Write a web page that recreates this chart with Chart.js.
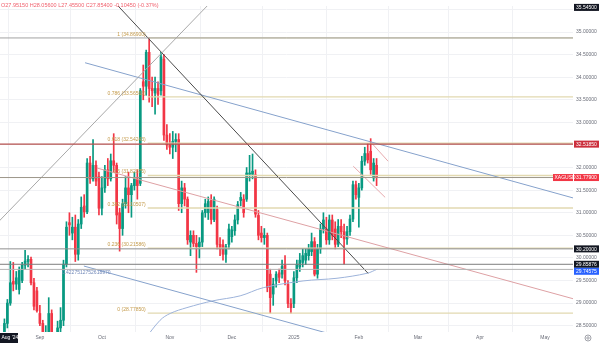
<!DOCTYPE html>
<html>
<head>
<meta charset="utf-8">
<script src="https://cdn.jsdelivr.net/npm/chart.js@4.4.1/dist/chart.umd.min.js"></script>
<style>
  html, body { margin: 0; padding: 0; background: #fff; }
  #wrap { width: 600px; height: 343px; }
</style>
</head>
<body>
<div id="wrap"><canvas id="chartXag"></canvas></div>
<script>
// XAGUSD daily candles, 14 Aug 2024 -> 11 Feb 2025 (axis runs on to mid May)
var startDay = "2024-08-14";
var endDay = "2025-05-14";
var holidays = ["2024-12-25", "2025-01-01"];

var openP = [27.9515, 27.85, 28.55, 29.00, 29.48, 29.42, 29.30, 29.50, 29.84, 29.92,
  29.97, 29.45, 29.27, 28.77, 28.55, 28.15, 28.30, 28.77, 28.05, 28.25,
  28.45, 28.62, 29.86, 30.78, 30.55, 30.68, 30.08, 30.75, 31.15, 31.02,
  32.10, 31.75, 32.05, 31.80, 31.10, 31.55, 31.95, 31.75, 32.15, 32.05,
  31.00, 30.65, 31.20, 31.55, 31.40, 31.60, 31.75, 31.65, 33.90, 33.80,
  34.55, 33.75, 33.65, 33.75, 33.70, 34.40, 32.72, 32.50, 32.45, 32.58,
  32.62, 31.20, 31.55, 31.30, 30.35, 30.50, 30.32, 30.25, 30.35, 31.00,
  31.00, 31.27, 30.85, 31.07, 30.30, 30.29, 30.08, 30.30, 30.47, 30.60,
  30.84, 31.27, 31.30, 31.30, 31.85, 31.85, 31.84, 30.94, 30.55, 30.45,
  30.50, 29.64, 29.20, 29.49, 29.67, 29.64, 29.86, 29.42, 28.99, 28.99,
  29.56, 29.80, 29.90, 29.95, 30.05, 30.14, 30.36, 29.64, 30.20, 30.64,
  30.64, 30.40, 30.84, 30.64, 30.30, 30.70, 30.58, 30.42, 30.58, 30.86,
  31.62, 31.34, 31.55, 32.14, 32.31, 32.36, 31.77, 32.05];
var highP = [28.056, 28.65, 29.08, 29.92, 29.90, 29.70, 29.80, 29.90, 30.17, 30.05,
  30.02, 29.55, 29.35, 28.95, 28.62, 28.50, 29.12, 28.85, 28.35, 28.60,
  28.90, 29.95, 30.80, 31.00, 30.90, 30.95, 30.85, 31.35, 31.40, 32.20,
  32.25, 32.62, 32.15, 31.90, 31.80, 32.05, 32.20, 32.30, 32.75, 32.10,
  31.10, 31.30, 31.80, 31.90, 31.65, 31.90, 31.95, 33.75, 34.27, 34.60,
  34.869, 34.00, 34.00, 33.90, 34.55, 34.50, 32.95, 32.75, 32.80, 32.75,
  32.75, 31.70, 31.65, 31.35, 30.60, 30.60, 30.50, 30.45, 31.05, 31.30,
  31.35, 31.40, 31.35, 31.15, 30.45, 30.40, 30.30, 30.75, 30.70, 30.95,
  31.25, 31.45, 31.40, 32.00, 32.27, 32.30, 31.95, 31.05, 30.70, 30.65,
  30.55, 29.75, 29.55, 29.70, 29.75, 29.95, 30.05, 29.50, 29.10, 29.70,
  29.95, 30.10, 30.20, 30.20, 30.30, 30.55, 30.45, 30.30, 30.75, 31.00,
  30.90, 30.95, 30.95, 30.80, 30.85, 30.85, 30.75, 30.70, 30.95, 31.70,
  31.70, 31.65, 32.25, 32.45, 32.53, 32.64, 32.20, 32.20];
var lowP = [27.455, 27.75, 28.45, 28.95, 29.27, 29.30, 29.20, 29.45, 29.75, 29.80,
  29.40, 28.85, 28.80, 28.50, 28.00, 27.85, 28.25, 27.70, 27.90, 28.10,
  28.00, 28.50, 29.80, 30.50, 30.40, 29.92, 29.95, 30.65, 30.90, 30.98,
  31.65, 31.70, 31.60, 30.95, 30.95, 31.45, 31.60, 31.70, 31.90, 30.75,
  30.15, 30.50, 31.10, 31.00, 30.90, 31.50, 31.30, 31.60, 33.50, 33.60,
  33.45, 33.35, 33.18, 33.40, 33.60, 32.60, 32.40, 32.30, 32.20, 32.35,
  31.05, 31.00, 31.15, 30.30, 30.05, 30.25, 29.68, 30.00, 30.25, 30.90,
  30.85, 30.75, 30.80, 30.20, 30.05, 29.95, 29.90, 30.20, 30.35, 30.50,
  30.75, 31.15, 30.90, 31.25, 31.70, 31.75, 30.90, 30.40, 30.35, 30.30,
  29.25, 28.78, 28.95, 29.35, 29.45, 29.55, 29.40, 28.90, 28.7785, 28.90,
  29.45, 29.70, 29.80, 29.85, 29.95, 30.05, 29.60, 29.55, 30.10, 30.55,
  30.30, 30.30, 30.40, 30.20, 30.25, 30.45, 29.86, 30.30, 30.50, 30.80,
  31.30, 30.68, 31.50, 32.05, 32.10, 31.85, 31.70, 31.60];
var closeP = [27.854, 28.55, 29.00, 29.45, 29.42, 29.56, 29.72, 29.84, 29.93, 29.97,
  29.45, 28.93, 28.83, 28.55, 28.15, 28.25, 28.77, 28.05, 28.25, 28.45,
  28.62, 29.86, 30.68, 30.73, 30.68, 30.08, 30.75, 31.12, 31.02, 32.10,
  31.75, 32.05, 31.70, 31.10, 31.55, 31.95, 31.75, 32.15, 32.05, 30.95,
  30.65, 31.20, 31.55, 31.40, 31.60, 31.75, 31.60, 33.70, 33.80, 34.55,
  33.75, 33.70, 33.75, 33.62, 34.45, 32.72, 32.50, 32.45, 32.58, 32.62,
  31.20, 31.55, 31.30, 30.40, 30.50, 30.32, 30.25, 30.35, 31.00, 31.20,
  31.25, 30.85, 31.30, 30.30, 30.20, 30.08, 30.25, 30.64, 30.62, 30.84,
  31.18, 31.34, 31.00, 31.88, 31.88, 31.92, 30.97, 30.50, 30.45, 30.50,
  29.34, 29.12, 29.42, 29.64, 29.57, 29.81, 29.49, 28.99, 28.90, 29.56,
  29.86, 29.95, 30.05, 30.10, 30.20, 30.36, 29.64, 30.20, 30.64, 30.84,
  30.40, 30.84, 30.50, 30.30, 30.70, 30.58, 30.42, 30.58, 30.86, 31.62,
  31.40, 31.55, 32.14, 32.31, 32.17, 31.95, 32.10, 31.779];
// close of the bar before the first one, for the header change
var prevClose = 27.9585;

var priceTicks = [28.5, 29, 29.5, 30, 30.5, 31, 31.5, 32, 32.5, 33, 33.5, 34, 34.5, 35, 35.5];
var monthNames = ["2025", "Feb", "Mar", "Apr", "May", "Jun", "Jul", "Aug", "Sep", "Oct", "Nov", "Dec"];

// fibonacci retracement, anchored on the Oct high and the Dec low
var fibHigh = 34.869;
var fibLow = 28.7785;
var fibRatios = [1, 0.786, 0.618, 0.5, 0.382, 0.236, 0];
var fibStart = 49.5;

// horizontal levels
var levelPrices = [34.869, 32.5185, 31.779, 30.2, 29.85876, 29.74575];
var levelColors = ["#a3a3a3", "#b5504f", "#9c968a", "#8f8f8f", "#7d7d7d", "#b3b3b3"];

// trendlines as [bar index, price]
var riseLine = [[-5, 30.53], [75, 35.94]];
var fallLine = [[30, 36.24], [124.1, 29.66]];
var upperChannel = [[28.3, 34.32], [200, 31.21]];
var midChannel = [[32.3, 31.99], [200, 28.98]];
var lowerChannel = [[27.9, 29.82], [115, 28.25]];
var anchoredCurve = [[48.3, 28.18], [53.7, 28.62], [57.1, 28.77], [62.8, 28.9], [71.6, 29.05],
  [80.8, 29.16], [88.6, 29.34], [102.1, 29.49], [113.6, 29.55], [123.8, 29.66], [127.2, 29.75]];
var flagTop = [[125.5, 32.53], [130.9, 32.14]];
var flagBottom = [[119.1, 32.03], [129.9, 31.34]];

// axis tags: value, text, colour
var tags = [
  [35.545, "35.54500", "#131722"],
  [32.5185, "32.51850", "#cc2f3c"],
  [31.779, "31.77900", "#f23645"],
  [30.2, "30.20000", "#131722"],
  [29.85876, "29.85876", "#131722"],
  [29.74575, "29.74575", "#2962ff"],
];

var upColor = "#089981";
var downColor = "#f23645";
var fontFam = "'Liberation Sans', Arial, sans-serif";

// trading days (weekdays without the two holidays)
var days = [];
var d = new Date(startDay + "T00:00:00Z");
var last = new Date(endDay + "T00:00:00Z");
while (d <= last) {
  var iso = d.toISOString().slice(0, 10);
  var wd = d.getUTCDay();
  if (wd != 0 && wd != 6 && holidays.indexOf(iso) < 0) days.push(iso);
  d.setUTCDate(d.getUTCDate() + 1);
}

var monthTicks = [];
for (var i = 1; i < days.length; i++) {
  if (days[i].slice(5, 7) != days[i - 1].slice(5, 7)) monthTicks.push(i);
}
function monthLabel(idx) {
  var m = parseInt(days[idx].slice(5, 7)) - 1;
  return monthNames[m];
}

function seg(pts, color, width, tension) {
  return {
    type: "line",
    data: pts.map(function (p) { return { x: p[0], y: p[1] }; }),
    borderColor: color,
    borderWidth: width,
    pointRadius: 0,
    tension: tension || 0,
    order: 2,
  };
}

var datasets = [];

// candles: wick then body
datasets.push({
  type: "bar",
  data: highP.map(function (h, i) { return { x: i, y: [lowP[i], h] }; }),
  backgroundColor: function (c) { return closeP[c.dataIndex] >= openP[c.dataIndex] ? upColor : downColor; },
  barThickness: 1,
  grouped: false,
  order: 11,
});
datasets.push({
  type: "bar",
  data: openP.map(function (o, i) { return { x: i, y: [Math.min(o, closeP[i]), Math.max(o, closeP[i])] }; }),
  backgroundColor: function (c) { return closeP[c.dataIndex] >= openP[c.dataIndex] ? upColor : downColor; },
  barThickness: 2,
  minBarLength: 1,
  grouped: false,
  order: 10,
});

levelPrices.forEach(function (p, k) {
  datasets.push(seg([[-0.5, p], [days.length - 0.5, p]], levelColors[k], k == 1 ? 1.3 : 1));
});
fibRatios.forEach(function (r) {
  var p = fibLow + (fibHigh - fibLow) * r;
  var ds = seg([[fibStart, p], [days.length - 0.5, p]], "#e2d9b0", 1.3);
  ds.order = 3;
  datasets.push(ds);
});
datasets.push(seg(riseLine, "#a8a8a8", 1));
datasets.push(seg(fallLine, "#4a4a4a", 1));
datasets.push(seg(upperChannel, "#86a2cc", 1));
datasets.push(seg(midChannel, "#dea1a4", 1));
datasets.push(seg(lowerChannel, "#86a2cc", 1));
datasets.push(seg(anchoredCurve, "#9db3da", 1, 0.35));
datasets.push(seg(flagTop, "#e7a9ad", 1));
datasets.push(seg(flagBottom, "#e7a9ad", 1));

var overlay = {
  id: "overlay",
  afterDatasetsDraw: function (chart) {
    var ctx = chart.ctx;
    var xs = chart.scales.x, ys = chart.scales.y;
    ctx.save();
    ctx.font = "5px " + fontFam;
    ctx.fillStyle = "#c49a4a";
    ctx.textAlign = "right";
    ctx.textBaseline = "bottom";
    fibRatios.forEach(function (r) {
      var p = fibLow + (fibHigh - fibLow) * r;
      ctx.fillText(r + " (" + p.toFixed(5) + ")", xs.getPixelForValue(fibStart) - 2, ys.getPixelForValue(p) - 1);
    });
    ctx.fillStyle = "#7289b8";
    ctx.textAlign = "left";
    ctx.textBaseline = "middle";
    ctx.fillText("0.4227512752618970", xs.getPixelForValue(lowerChannel[0][0]) - 22, ys.getPixelForValue(lowerChannel[0][1]) + 7);
    ctx.restore();
  },
  afterDraw: function (chart) {
    var ctx = chart.ctx;
    var ys = chart.scales.y;
    var area = chart.chartArea;
    ctx.save();
    ctx.font = "5px " + fontFam;
    ctx.textBaseline = "middle";
    // price tags on the right axis
    var prevY = -100;
    tags.forEach(function (t) {
      var y = ys.getPixelForValue(t[0]);
      if (y < prevY + 7) y = prevY + 7;
      prevY = y;
      ctx.fillStyle = t[2];
      ctx.fillRect(area.right + 1, y - 3.5, 25, 7);
      ctx.fillStyle = "#fff";
      ctx.textAlign = "left";
      ctx.fillText(t[1], area.right + 3, y + 0.3);
      if (t[1] == "31.77900") {
        ctx.fillStyle = t[2];
        ctx.fillRect(area.right - 20, y - 3.5, 20, 7);
        ctx.fillStyle = "#fff";
        ctx.fillText("XAGUSD", area.right - 18.5, y + 0.3);
      }
    });
    // OHLC header of the first bar
    var chg = closeP[0] - prevClose;
    ctx.font = "5.5px " + fontFam;
    ctx.fillStyle = "#f0606d";
    ctx.textAlign = "left";
    ctx.fillText("O" + openP[0].toFixed(5) + " H" + highP[0].toFixed(5) + " L" + lowP[0].toFixed(5) +
      " C" + closeP[0].toFixed(5) + " " + chg.toFixed(5) + " (" + (chg / prevClose * 100).toFixed(2) + "%)", 1, 5);
    // crosshair date box
    ctx.font = "5px " + fontFam;
    ctx.fillStyle = "#131722";
    ctx.fillRect(0, area.bottom + 1, 18, 10);
    ctx.fillStyle = "#fff";
    ctx.fillText("Aug '24", 1.5, area.bottom + 6);
    // settings gear
    ctx.strokeStyle = "#8a8d96";
    ctx.lineWidth = 0.8;
    ctx.beginPath();
    ctx.arc(588, area.bottom + 6, 3, 0, Math.PI * 2);
    ctx.stroke();
    ctx.beginPath();
    ctx.arc(588, area.bottom + 6, 1.2, 0, Math.PI * 2);
    ctx.stroke();
    ctx.restore();
  },
};

new Chart(document.getElementById("chartXag"), {
  type: "bar",
  data: { datasets: datasets },
  options: {
    animation: false,
    responsive: true,
    maintainAspectRatio: false,
    layout: { padding: 0 },
    plugins: { legend: { display: false }, tooltip: { enabled: false } },
    scales: {
      x: {
        type: "linear",
        min: -0.5,
        max: days.length - 0.5,
        offset: false,
        afterBuildTicks: function (s) { s.ticks = monthTicks.map(function (v) { return { value: v }; }); },
        afterFit: function (s) { s.height = 11; },
        ticks: {
          autoSkip: false,
          maxRotation: 0,
          padding: 3,
          color: "#6a6d78",
          font: { family: fontFam, size: 5 },
          callback: function (v) { return monthLabel(v); },
        },
        grid: { color: "#f0f1f4", drawTicks: false },
        border: { display: false },
      },
      y: {
        type: "linear",
        position: "right",
        min: 28.36,
        max: 35.576,
        afterBuildTicks: function (s) { s.ticks = priceTicks.map(function (v) { return { value: v }; }); },
        afterFit: function (s) { s.width = 27; },
        ticks: {
          padding: 3,
          color: "#6a6d78",
          font: { family: fontFam, size: 5 },
          callback: function (v) { return v.toFixed(5); },
        },
        grid: { color: "#f0f1f4", drawTicks: false },
        border: { display: false },
      },
    },
  },
  plugins: [overlay],
});
</script>
</body>
</html>
